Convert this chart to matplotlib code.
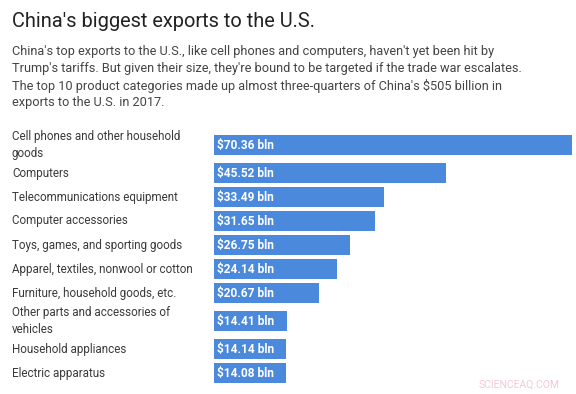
import matplotlib
matplotlib.use("Agg")
import matplotlib.pyplot as plt
import numpy as np

categories = [
    "Cell phones and other household\ngoods",
    "Computers",
    "Telecommunications equipment",
    "Computer accessories",
    "Toys, games, and sporting goods",
    "Apparel, textiles, nonwool or cotton",
    "Furniture, household goods, etc.",
    "Other parts and accessories of\nvehicles",
    "Household appliances",
    "Electric apparatus",
]
values = [70.36, 45.52, 33.49, 31.65, 26.75, 24.14, 20.67, 14.41, 14.14, 14.08]
value_labels = ["${:.2f} bln".format(v) for v in values]

title = "China's biggest exports to the U.S."
subtitle = ("China's top exports to the U.S., like cell phones and computers, haven't yet been hit by\n"
            "Trump's tariffs. But given their size, they're bound to be targeted if the trade war escalates.\n"
            "The top 10 product categories made up almost three-quarters of China's $505 billion in\n"
            "exports to the U.S. in 2017.")

W, H = 576, 394
plt.rcParams['font.family'] = ['Roboto', 'DejaVu Sans']
fig = plt.figure(figsize=(W / 100, H / 100), dpi=100)
fig.patch.set_facecolor("white")

# row layout (pixel units): single line rows 24px, two-line rows 32px
row_h = [32 if "\n" in c else 24 for c in categories]
edges = np.concatenate([[0], np.cumsum(row_h)])
centers = (edges[:-1] + edges[1:]) / 2
total = edges[-1]

top_px = 129
left_px, right_px = 214, 572
ax = fig.add_axes([left_px / W, 1 - (top_px + total) / H,
                   (right_px - left_px) / W, total / H])
ax.barh(centers, values, height=20, color="#4a89dc", linewidth=0)
ax.set_xlim(0, max(values))
ax.set_ylim(total, 0)
ax.axis("off")

for c, y, lab in zip(categories, centers, value_labels):
    ax.text(0.5, y, lab, color="white", fontsize=8.6, fontweight="bold",
            va="center", ha="left")
    fig.text(12 / W, 1 - (top_px + y) / H, c, fontsize=8.4, color="#3a3a3a",
             va="center", ha="left", linespacing=1.42)

fig.text(12 / W, 1 - 27 / H, title, fontsize=14.4, color="#222222",
         ha="left", va="baseline")
fig.text(12 / W, 1 - 45 / H, subtitle, fontsize=9.2, color="#444444",
         ha="left", va="top", linespacing=1.36)

fig.text(519 / W, 1 - 385 / H, "SCIENCEAQ.COM", fontsize=7.5, color="#f4c9d2",
         ha="center", va="center")

fig.savefig("out.png", dpi=100, facecolor="white")
